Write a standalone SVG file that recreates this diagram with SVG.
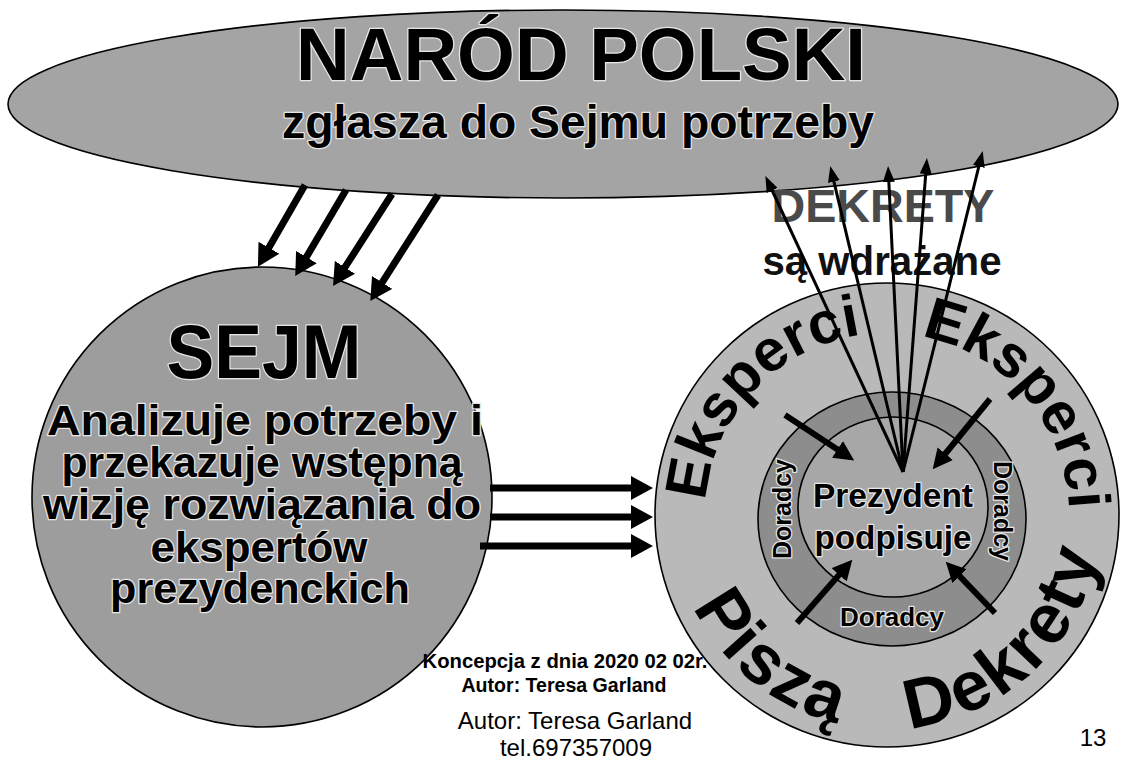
<svg xmlns="http://www.w3.org/2000/svg" width="1121" height="780" viewBox="0 0 1121 780">
<defs>
<style>
text{font-family:"Liberation Sans",Arial,sans-serif;font-weight:bold;text-anchor:middle;}
.halo{fill:#000;stroke:#e6e6e6;stroke-width:2.5;paint-order:stroke;stroke-linejoin:round;}
.shape{stroke:#000;stroke-width:1.6;}
.thick{stroke:#000;stroke-width:7;fill:none;}
.mid{stroke:#000;stroke-width:6;fill:none;}
.thin{stroke:#000;stroke-width:3;fill:none;}
.ring{font-size:59px;fill:#000;}
.big{font-size:70px;letter-spacing:3px;}
.reg{font-weight:normal;}
</style>
<marker id="headL" markerUnits="userSpaceOnUse" viewBox="0 0 22 24" markerWidth="22" markerHeight="24" refX="1" refY="12" orient="auto"><path d="M0,0 L22,12 L0,24 z" fill="#000"/></marker>
<marker id="headM" markerUnits="userSpaceOnUse" viewBox="0 0 20 20" markerWidth="20" markerHeight="20" refX="1" refY="10" orient="auto"><path d="M0,0 L20,10 L0,20 z" fill="#000"/></marker>
<marker id="headS" markerUnits="userSpaceOnUse" viewBox="0 0 16 12" markerWidth="16" markerHeight="12" refX="1" refY="6" orient="auto"><path d="M0,0 L16,6 L0,12 z" fill="#000"/></marker>
<path id="arcTop" d="M705,515 A182 182 0 0 1 1069,515"/>
<path id="arcBot" d="M673,515 A214 214 0 0 0 1101,515"/>
</defs>
<rect width="1121" height="780" fill="#fff"/>

<g id="narod">
<ellipse class="shape" cx="563" cy="104" rx="555" ry="94" fill="#a4a4a4"/>
<text class="halo" x="581" y="80" font-size="74" textLength="570" lengthAdjust="spacingAndGlyphs">NARÓD POLSKI</text>
<text class="halo" x="578" y="138" font-size="46" textLength="592" lengthAdjust="spacingAndGlyphs">zgłasza do Sejmu potrzeby</text>
</g>

<g id="sejm">
<circle class="shape" cx="262" cy="497" r="230" fill="#9d9d9d"/>
<text class="halo" x="264" y="378" font-size="76" textLength="195" lengthAdjust="spacingAndGlyphs">SEJM</text>
<text class="halo" x="265" y="435" font-size="43" textLength="436" lengthAdjust="spacingAndGlyphs">Analizuje potrzeby i</text>
<text class="halo" x="262" y="477" font-size="43" textLength="401" lengthAdjust="spacingAndGlyphs">przekazuje wstępną</text>
<text class="halo" x="262" y="519" font-size="43" textLength="438" lengthAdjust="spacingAndGlyphs">wizję rozwiązania do</text>
<text class="halo" x="259" y="562" font-size="43" textLength="217" lengthAdjust="spacingAndGlyphs">ekspertów</text>
<text class="halo" x="260" y="603" font-size="43" textLength="300" lengthAdjust="spacingAndGlyphs">prezydenckich</text>
</g>

<g id="dekrety-label">
<text x="883" y="222" font-size="47" fill="#4a4a4a" textLength="223" lengthAdjust="spacingAndGlyphs">DEKRETY</text>
<text x="882" y="275" font-size="41" fill="#111" textLength="239" lengthAdjust="spacingAndGlyphs">są wdrażane</text>
</g>

<g id="eksperci">
<circle class="shape" cx="887" cy="515" r="232" fill="#b9b9b9"/>
<text class="ring"><textPath href="#arcTop" startOffset="24%">Eksperci</textPath></text>
<text class="ring"><textPath href="#arcTop" startOffset="77.5%">Eksperci</textPath></text>
<text class="ring big"><textPath href="#arcBot" startOffset="28.5%">Piszą</textPath></text>
<text class="ring big"><textPath href="#arcBot" startOffset="74%">Dekrety</textPath></text>
</g>

<g id="doradcy">
<ellipse class="shape" cx="892" cy="519" rx="134" ry="127" fill="#8d8d8d"/>
<text class="halo" x="892" y="626" font-size="26">Doradcy</text>
<text class="halo" font-size="25" transform="translate(791,509) rotate(-90)">Doradcy</text>
<text class="halo" font-size="25" transform="translate(994,511) rotate(90)">Doradcy</text>
</g>

<g id="prezydent">
<ellipse class="shape" cx="893" cy="507" rx="95" ry="90" fill="#a7a7a7"/>
<text class="halo" x="893" y="507" font-size="33" textLength="160" lengthAdjust="spacingAndGlyphs">Prezydent</text>
<text class="halo" x="893" y="549" font-size="33" textLength="157" lengthAdjust="spacingAndGlyphs">podpisuje</text>
</g>

<g id="connectors">
<line class="thick" x1="305" y1="185" x2="268.4" y2="248.6" marker-end="url(#headL)"/>
<line class="thick" x1="346" y1="190" x2="305.9" y2="257.9" marker-end="url(#headL)"/>
<line class="thick" x1="392" y1="194" x2="344.4" y2="268.2" marker-end="url(#headL)"/>
<line class="thick" x1="438" y1="195" x2="381.6" y2="283.3" marker-end="url(#headL)"/>
<line class="thick" x1="490" y1="488" x2="632" y2="488" marker-end="url(#headL)"/>
<line class="thick" x1="490" y1="517" x2="632" y2="517" marker-end="url(#headL)"/>
<line class="thick" x1="480" y1="546" x2="632" y2="546" marker-end="url(#headL)"/>
<line class="thin" x1="903" y1="472" x2="771.7" y2="189.5" marker-end="url(#headS)"/>
<line class="thin" x1="903" y1="472" x2="833.7" y2="180.6" marker-end="url(#headS)"/>
<line class="thin" x1="903" y1="472" x2="888.8" y2="181" marker-end="url(#headS)"/>
<line class="thin" x1="903" y1="472" x2="925.8" y2="173" marker-end="url(#headS)"/>
<line class="thin" x1="903" y1="472" x2="979.1" y2="165.5" marker-end="url(#headS)"/>
<line class="mid" x1="785" y1="415" x2="838.3" y2="450" marker-end="url(#headM)"/>
<line class="mid" x1="990" y1="399" x2="944.7" y2="454.5" marker-end="url(#headM)"/>
<line class="mid" x1="797" y1="623" x2="839.8" y2="574.1" marker-end="url(#headM)"/>
<line class="mid" x1="995" y1="613" x2="958.9" y2="575.4" marker-end="url(#headM)"/>
</g>

<g id="footer">
<text x="565" y="668" font-size="20" textLength="285" lengthAdjust="spacingAndGlyphs">Koncepcja z dnia 2020 02 02r.</text>
<text x="564" y="692" font-size="20" textLength="205" lengthAdjust="spacingAndGlyphs">Autor: Teresa Garland</text>
<text class="reg" x="575" y="729" font-size="24">Autor: Teresa Garland</text>
<text class="reg" x="576" y="756" font-size="24">tel.697357009</text>
<text class="reg" x="1093" y="746" font-size="24">13</text>
</g>
</svg>
